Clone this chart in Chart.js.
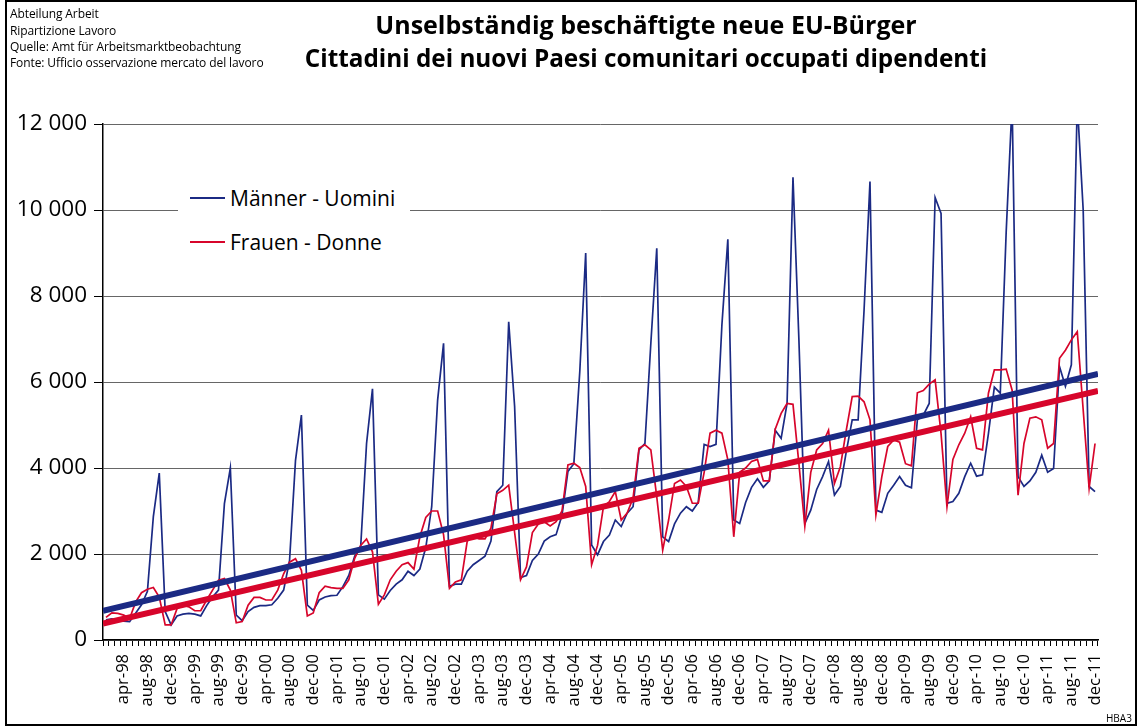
<!DOCTYPE html>
<html>
<head>
<meta charset="utf-8">
<script src="https://cdn.jsdelivr.net/npm/chart.js@4.4.1/dist/chart.umd.min.js"></script>
<style>
  html, body { margin: 0; padding: 0; background: #fff; }
  #wrap { position: relative; width: 1137px; height: 726px; overflow: hidden; background: #fff; font-family: "Open Sans", sans-serif; }
  #c { position: absolute; left: 0; top: 0; }
  #frame { position: absolute; left: 5px; top: 0; width: 1128px; height: 722px; border: 2px solid #000; box-sizing: content-box; pointer-events: none; }
  .note { position: absolute; left: 10px; font-size: 12px; line-height: 14px; color: #000; white-space: nowrap; letter-spacing: -0.1px; }
  .title { position: absolute; left: 246px; width: 800px; text-align: center; font-weight: bold; line-height: 30px; color: #000; white-space: nowrap; }
  #legend { position: absolute; left: 178px; top: 180px; width: 232px; height: 100px; background: #fff; }
  .lgRow { position: absolute; left: 12px; height: 28px; }
  .lgLine { position: absolute; left: 0; top: 13px; width: 35px; height: 2px; }
  .lgText { position: absolute; left: 40px; top: 0; font-size: 21px; line-height: 28px; color: #000; white-space: nowrap; }
  #code { position: absolute; left: 1106px; top: 711px; font-size: 10px; color: #000; }
</style>
</head>
<body>
<div id="wrap">
  <canvas id="c" width="1137" height="726"></canvas>
  <div class="note" style="top:7px">Abteilung Arbeit</div>
  <div class="note" style="top:24px">Ripartizione Lavoro</div>
  <div class="note" style="top:40px">Quelle: Amt für Arbeitsmarktbeobachtung</div>
  <div class="note" style="top:56px">Fonte: Ufficio osservazione mercato del lavoro</div>
  <div class="title" style="top:9px; font-size:25px">Unselbständig beschäftigte neue EU-Bürger</div>
  <div class="title" style="top:43px; font-size:24.3px">Cittadini dei nuovi Paesi comunitari occupati dipendenti</div>
  <div id="legend">
    <div class="lgRow" style="top:4px"><div class="lgLine" style="background:#1b2a84"></div><div class="lgText">Männer - Uomini</div></div>
    <div class="lgRow" style="top:48px"><div class="lgLine" style="background:#d7052b"></div><div class="lgText">Frauen - Donne</div></div>
  </div>
  <div id="code">HBA3</div>
  <div id="frame"></div>
</div>
<script>
// ---- data ----
const monthNames = ['jan','feb','mar','apr','may','jun','jul','aug','sep','oct','nov','dec'];
const yearLabels = ['98','99','00','01','02','03','04','05','06','07','08','09','10','11'];
const shownMonths = ['apr','aug','dec'];
const yTicks = [0, 2000, 4000, 6000, 8000, 10000, 12000];

// Männer - Uomini (monthly, jan-98 .. dec-11)
const men = [
  470, 490, 460, 440, 425, 620, 820, 1130, 2870, 3880, 660, 350,
  560, 600, 620, 600, 560, 800, 1000, 1160, 3170, 4000, 580, 450,
  660, 760, 800, 800, 820, 970, 1160, 1850, 4170, 5230, 810, 690,
  930, 1000, 1030, 1040, 1240, 1500, 1950, 2150, 4570, 5840, 1050, 950,
  1150, 1300, 1400, 1600, 1500, 1650, 2150, 3100, 5580, 6900, 1250, 1300,
  1300, 1600, 1750, 1850, 1950, 2300, 3450, 3600, 7400, 5430, 1450, 1500,
  1850, 2000, 2300, 2400, 2450, 2900, 3920, 4100, 6240, 9000, 2210, 1980,
  2290, 2440, 2790, 2640, 2950, 3100, 4420, 4570, 6900, 9110, 2400, 2290,
  2700, 2950, 3100, 3000, 3200, 4550, 4500, 4550, 7330, 9320, 2790, 2710,
  3200, 3550, 3750, 3550, 3700, 4880, 4690, 5500, 10760, 6980, 2710, 3020,
  3500, 3800, 4150, 3370, 3570, 4380, 5120, 5120, 7670, 10660, 3020, 2970,
  3410, 3600, 3800, 3600, 3540, 5120, 5230, 5500, 10290, 9920, 3180, 3220,
  3410, 3800, 4110, 3810, 3840, 4800, 5880, 5740, 9500, 12500, 3800, 3570,
  3700, 3900, 4300, 3900, 3990, 6360, 5900, 6400, 12500, 10000, 3570, 3450
];
// Frauen - Donne
const women = [
  525, 630, 620, 580, 500, 880, 1100, 1180, 1220, 1000, 350, 350,
  730, 810, 770, 680, 680, 930, 1160, 1390, 1430, 1160, 400, 430,
  810, 990, 990, 930, 930, 1160, 1540, 1810, 1890, 1620, 560, 630,
  1100, 1250, 1220, 1200, 1200, 1400, 1900, 2200, 2350, 2050, 830, 1050,
  1400, 1600, 1750, 1800, 1650, 2400, 2850, 3000, 3000, 2450, 1200, 1350,
  1400, 2300, 2400, 2350, 2350, 2600, 3400, 3480, 3600, 2500, 1400, 1700,
  2500, 2700, 2750, 2650, 2750, 3000, 4070, 4110, 4010, 3570, 1750, 2200,
  3100, 3220, 3450, 2790, 2950, 3300, 4460, 4540, 4420, 3330, 2090, 2790,
  3640, 3720, 3570, 3180, 3180, 3900, 4810, 4880, 4810, 4190, 2400, 3900,
  4000, 4150, 4200, 3700, 3700, 4900, 5270, 5500, 5480, 4100, 2650, 3900,
  4420, 4570, 4880, 3640, 4030, 4880, 5660, 5670, 5540, 5120, 2910, 3800,
  4500, 4650, 4600, 4100, 4050, 5750, 5800, 5950, 6050, 4800, 3100, 4200,
  4540, 4810, 5190, 4460, 4420, 5740, 6280, 6280, 6300, 5810, 3370, 4570,
  5160, 5190, 5120, 4460, 4570, 6550, 6740, 6980, 7170, 5350, 3530, 4570
];
// linear trend lines, value at left and right edge of plot
const menTrend = [680, 6190];
const womenTrend = [380, 5790];

// ---- build ----
const categories = [];
yearLabels.forEach(y => monthNames.forEach(m => categories.push(m + '-' + y)));
const nCat = categories.length;

const BLUE = '#1b2a84';
const RED = '#d7052b';

function fmt(v) {
  return String(v).replace(/\B(?=(\d{3})+(?!\d))/g, ' ');
}

new Chart(document.getElementById('c'), {
  type: 'line',
  data: {
    labels: categories,
    datasets: [
      { label: 'Trend Männer', xAxisID: 'xT', data: [{x: 0, y: menTrend[0]}, {x: nCat, y: menTrend[1]}],
        borderColor: BLUE, borderWidth: 6, pointRadius: 0, tension: 0, borderCapStyle: 'butt' },
      { label: 'Trend Frauen', xAxisID: 'xT', data: [{x: 0, y: womenTrend[0]}, {x: nCat, y: womenTrend[1]}],
        borderColor: RED, borderWidth: 6, pointRadius: 0, tension: 0, borderCapStyle: 'butt' },
      { label: 'Frauen - Donne', xAxisID: 'x', data: women, borderColor: RED, borderWidth: 1.7, pointRadius: 0, tension: 0 },
      { label: 'Männer - Uomini', xAxisID: 'x', data: men, borderColor: BLUE, borderWidth: 1.7, pointRadius: 0, tension: 0 }
    ]
  },
  options: {
    responsive: false,
    animation: false,
    devicePixelRatio: 1,
    layout: { padding: { top: 124, right: 39, left: 0, bottom: 0 } },
    plugins: { legend: { display: false }, title: { display: false }, tooltip: { enabled: false } },
    scales: {
      x: {
        type: 'category',
        offset: true,
        afterFit: (s) => { s.height = 86; },
        grid: { display: true, offset: true, drawOnChartArea: false, drawTicks: true, tickLength: 6, color: '#000', lineWidth: 1 },
        border: { display: true, color: '#000', width: 1.5 },
        ticks: {
          autoSkip: false, maxRotation: 90, minRotation: 90, padding: 8,
          color: '#000', font: { family: 'Open Sans', size: 16.5 },
          callback: function(val, idx) {
            const lab = categories[idx];
            return shownMonths.includes(lab.slice(0, 3)) ? lab : '';
          }
        }
      },
      xT: { type: 'linear', min: 0, max: nCat, display: false },
      y: {
        min: 0, max: 12000,
        afterFit: (s) => { s.width = 103; },
        afterBuildTicks: (s) => { s.ticks = yTicks.map(v => ({ value: v })); },
        grid: { color: '#666', lineWidth: 1, drawTicks: true, tickLength: 9, tickColor: '#000' },
        border: { display: true, color: '#000', width: 1.5 },
        ticks: { padding: 7, color: '#000', font: { family: 'Open Sans', size: 22.5 }, callback: (v) => fmt(v) }
      }
    }
  }
});
</script>
</body>
</html>
